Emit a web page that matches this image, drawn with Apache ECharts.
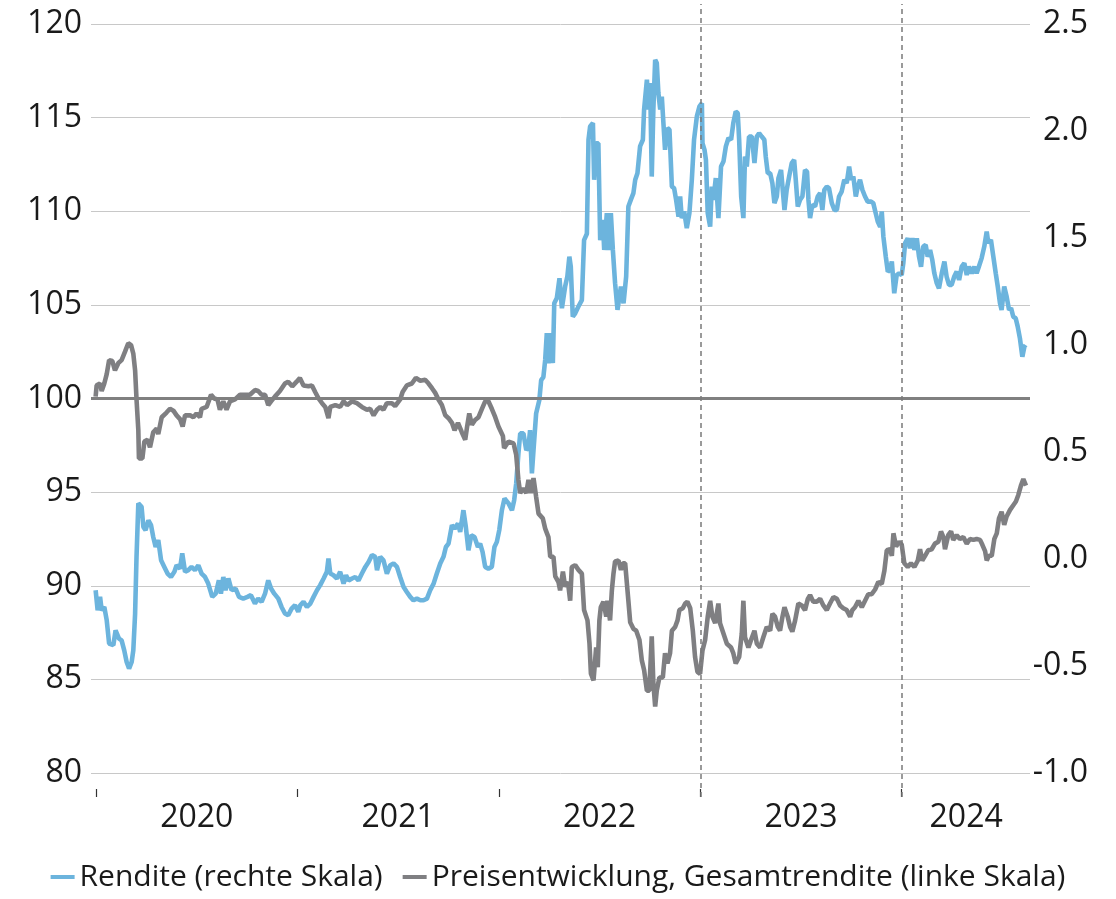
<!DOCTYPE html>
<html>
<head>
<meta charset="utf-8">
<title>Rendite und Preisentwicklung</title>
<script src="https://cdn.jsdelivr.net/npm/echarts@6/dist/echarts.min.js"></script>
<style>
  html, body { margin: 0; padding: 0; background: #fff; }
  #main { width: 1116px; height: 899px; }
</style>
</head>
<body>
<div id="main"></div>
<script>
// x values are fractional years (2020.5 = mid 2020)
var yearTicks = [2020, 2021, 2022, 2023, 2024];
var yearLabelPos = [2020.5, 2021.5, 2022.5, 2023.5, 2024.32];
var dividerYears = [2023, 2024];
var baseLevel = 100;

// Rendite (rechte Skala)
var blueYears = [
  2019.998, 2020.008, 2020.020, 2020.028, 2020.041, 2020.053, 2020.065, 2020.086, 2020.097, 2020.114,
  2020.127, 2020.140, 2020.152, 2020.164, 2020.177, 2020.185, 2020.194, 2020.201, 2020.210, 2020.218,
  2020.226, 2020.235, 2020.246, 2020.260, 2020.273, 2020.284, 2020.296, 2020.309, 2020.323, 2020.339,
  2020.355, 2020.372, 2020.389, 2020.400, 2020.417, 2020.428, 2020.442, 2020.458, 2020.474, 2020.491,
  2020.508, 2020.524, 2020.541, 2020.557, 2020.577, 2020.594, 2020.610, 2020.620, 2020.632, 2020.643,
  2020.657, 2020.673, 2020.693, 2020.710, 2020.731, 2020.752, 2020.769, 2020.789, 2020.805, 2020.822,
  2020.839, 2020.855, 2020.869, 2020.885, 2020.905, 2020.921, 2020.938, 2020.954, 2020.971, 2020.988,
  2021.004, 2021.014, 2021.030, 2021.047, 2021.064, 2021.080, 2021.097, 2021.113, 2021.130, 2021.146,
  2021.154, 2021.163, 2021.179, 2021.196, 2021.212, 2021.229, 2021.241, 2021.254, 2021.271, 2021.287,
  2021.303, 2021.320, 2021.337, 2021.353, 2021.370, 2021.386, 2021.395, 2021.411, 2021.427, 2021.444,
  2021.461, 2021.477, 2021.494, 2021.510, 2021.527, 2021.543, 2021.560, 2021.576, 2021.593, 2021.610,
  2021.626, 2021.643, 2021.659, 2021.676, 2021.692, 2021.709, 2021.725, 2021.737, 2021.750, 2021.767,
  2021.780, 2021.797, 2021.808, 2021.824, 2021.836, 2021.849, 2021.863, 2021.879, 2021.896, 2021.907,
  2021.919, 2021.932, 2021.948, 2021.965, 2021.978, 2021.990, 2022.002, 2022.015, 2022.028, 2022.048,
  2022.065, 2022.076, 2022.086, 2022.097, 2022.106, 2022.122, 2022.136, 2022.147, 2022.155, 2022.164,
  2022.172, 2022.185, 2022.201, 2022.210, 2022.221, 2022.230, 2022.238, 2022.246, 2022.258, 2022.268,
  2022.275, 2022.288, 2022.301, 2022.313, 2022.321, 2022.329, 2022.340, 2022.350, 2022.357, 2022.367,
  2022.379, 2022.395, 2022.412, 2022.423, 2022.437, 2022.445, 2022.453, 2022.467, 2022.473, 2022.483,
  2022.494, 2022.503, 2022.516, 2022.523, 2022.536, 2022.544, 2022.556, 2022.566, 2022.577, 2022.589,
  2022.606, 2022.619, 2022.632, 2022.643, 2022.655, 2022.668, 2022.677, 2022.688, 2022.701, 2022.715,
  2022.721, 2022.735, 2022.743, 2022.751, 2022.759, 2022.767, 2022.776, 2022.784, 2022.792, 2022.801,
  2022.809, 2022.817, 2022.825, 2022.837, 2022.847, 2022.859, 2022.870, 2022.880, 2022.892, 2022.900,
  2022.908, 2022.920, 2022.933, 2022.946, 2022.958, 2022.969, 2022.983, 2022.996, 2023.008, 2023.011,
  2023.021, 2023.028, 2023.037, 2023.049, 2023.057, 2023.065, 2023.077, 2023.090, 2023.103, 2023.115,
  2023.127, 2023.140, 2023.153, 2023.164, 2023.176, 2023.186, 2023.193, 2023.203, 2023.214, 2023.222,
  2023.231, 2023.242, 2023.256, 2023.269, 2023.281, 2023.292, 2023.305, 2023.318, 2023.325, 2023.335,
  2023.347, 2023.358, 2023.368, 2023.380, 2023.388, 2023.401, 2023.408, 2023.418, 2023.429, 2023.441,
  2023.454, 2023.466, 2023.474, 2023.484, 2023.495, 2023.507, 2023.520, 2023.530, 2023.537, 2023.545,
  2023.556, 2023.570, 2023.583, 2023.595, 2023.606, 2023.616, 2023.628, 2023.639, 2023.653, 2023.666,
  2023.678, 2023.689, 2023.702, 2023.715, 2023.727, 2023.739, 2023.749, 2023.760, 2023.772, 2023.782,
  2023.793, 2023.805, 2023.818, 2023.831, 2023.848, 2023.859, 2023.871, 2023.881, 2023.893, 2023.901,
  2023.909, 2023.921, 2023.931, 2023.942, 2023.951, 2023.963, 2023.975, 2023.987, 2024.000, 2024.008,
  2024.017, 2024.030, 2024.041, 2024.053, 2024.063, 2024.075, 2024.086, 2024.096, 2024.107, 2024.119,
  2024.129, 2024.141, 2024.152, 2024.162, 2024.174, 2024.185, 2024.199, 2024.212, 2024.223, 2024.235,
  2024.248, 2024.261, 2024.273, 2024.285, 2024.298, 2024.311, 2024.323, 2024.334, 2024.348, 2024.361,
  2024.372, 2024.383, 2024.397, 2024.410, 2024.422, 2024.430, 2024.443, 2024.455, 2024.467, 2024.477,
  2024.488, 2024.496, 2024.509, 2024.521, 2024.533, 2024.543, 2024.554, 2024.566, 2024.576, 2024.587,
  2024.599, 2024.609, 2024.615
];
var blueValues = [
  -0.146, -0.24, -0.177, -0.24, -0.224, -0.286, -0.395, -0.403, -0.333, -0.372,
  -0.38, -0.427, -0.481, -0.512, -0.481, -0.427, -0.255, 0.01, 0.26, 0.267,
  0.244, 0.15, 0.135, 0.18, 0.158, 0.103, 0.056, 0.088, -0.006, -0.037,
  -0.068, -0.084, -0.06, -0.029, -0.045, 0.026, -0.06, -0.052, -0.037, -0.052,
  -0.029, -0.068, -0.084, -0.115, -0.177, -0.162, -0.1, -0.162, -0.084, -0.146,
  -0.091, -0.146, -0.138, -0.177, -0.185, -0.177, -0.169, -0.208, -0.185, -0.2,
  -0.162, -0.1, -0.138, -0.162, -0.185, -0.224, -0.255, -0.263, -0.232, -0.216,
  -0.247, -0.216, -0.2, -0.224, -0.208, -0.177, -0.146, -0.122, -0.091, -0.06,
  0.002, -0.068, -0.076, -0.091, -0.06, -0.115, -0.076, -0.1, -0.091, -0.084,
  -0.1, -0.068, -0.037, -0.014, 0.018, 0.01, -0.052, 0.01, -0.006, -0.068,
  -0.029, -0.021, -0.037, -0.084, -0.131, -0.154, -0.177, -0.193, -0.185, -0.193,
  -0.193, -0.185, -0.146, -0.115, -0.068, -0.021, 0.01, 0.056, 0.072, 0.158,
  0.142, 0.166, 0.127, 0.228, 0.15, 0.041, 0.111, 0.103, 0.056, 0.072,
  0.033, -0.037, -0.045, -0.037, 0.056, 0.08, 0.135, 0.228, 0.283, 0.26,
  0.228, 0.275, 0.353, 0.493, 0.587, 0.587, 0.509, 0.524, 0.602, 0.4,
  0.509, 0.68, 0.743, 0.836, 0.85, 0.93, 1.055, 0.914, 1.055, 0.915,
  1.195, 1.22, 1.312, 1.172, 1.164, 1.273, 1.32, 1.413, 1.366, 1.132,
  1.148, 1.18, 1.21, 1.49, 1.52, 1.959, 2.021, 2.037, 1.772, 1.943,
  1.943, 1.49, 1.585, 1.444, 1.616, 1.444, 1.616, 1.444, 1.289, 1.164,
  1.273, 1.195, 1.32, 1.647, 1.678, 1.71, 1.772, 1.803, 1.928, 1.959,
  2.1, 2.24, 2.1, 2.224, 1.787, 2.1, 2.333, 2.318, 2.177, 2.1,
  2.161, 2.161, 1.912, 2.014, 2.006, 1.74, 1.733, 1.678, 1.6, 1.694,
  1.593, 1.624, 1.546, 1.616, 1.772, 1.959, 2.068, 2.115, 2.13, 1.943,
  1.912, 1.865, 1.616, 1.553, 1.74, 1.678, 1.78, 1.593, 1.834, 1.857,
  1.928, 1.967, 1.959, 2.037, 2.091, 2.084, 1.959, 1.694, 1.593, 1.881,
  1.834, 1.974, 1.974, 1.85, 1.974, 1.99, 1.974, 1.959, 1.881, 1.803,
  1.803, 1.756, 1.663, 1.694, 1.78, 1.818, 1.818, 1.631, 1.725, 1.787,
  1.85, 1.865, 1.772, 1.647, 1.678, 1.694, 1.818, 1.81, 1.678, 1.593,
  1.655, 1.647, 1.694, 1.71, 1.631, 1.725, 1.74, 1.733, 1.663, 1.631,
  1.631, 1.694, 1.717, 1.772, 1.756, 1.834, 1.772, 1.787, 1.694, 1.74,
  1.772, 1.725, 1.694, 1.67, 1.67, 1.663, 1.616, 1.577, 1.553, 1.624,
  1.507, 1.413, 1.343, 1.351, 1.39, 1.242, 1.327, 1.335, 1.327, 1.382,
  1.476, 1.499, 1.452, 1.499, 1.444, 1.499, 1.413, 1.366, 1.46, 1.468,
  1.413, 1.444, 1.397, 1.335, 1.289, 1.265, 1.335, 1.39, 1.32, 1.281,
  1.281, 1.32, 1.343, 1.304, 1.366, 1.382, 1.327, 1.366, 1.335, 1.366,
  1.335, 1.366, 1.406, 1.46, 1.53, 1.476, 1.491, 1.413, 1.335, 1.273,
  1.195, 1.164, 1.273, 1.226, 1.164, 1.172, 1.132, 1.125, 1.086, 1.031,
  0.945, 0.992, 1.0
];

// Preisentwicklung, Gesamtrendite (linke Skala)
var grayYears = [
  2019.998, 2020.003, 2020.020, 2020.028, 2020.041, 2020.053, 2020.065, 2020.081, 2020.094, 2020.111,
  2020.127, 2020.144, 2020.160, 2020.174, 2020.185, 2020.194, 2020.201, 2020.210, 2020.213, 2020.230,
  2020.240, 2020.256, 2020.268, 2020.284, 2020.301, 2020.309, 2020.326, 2020.350, 2020.367, 2020.384,
  2020.400, 2020.417, 2020.430, 2020.442, 2020.467, 2020.483, 2020.499, 2020.516, 2020.524, 2020.549,
  2020.571, 2020.587, 2020.603, 2020.615, 2020.632, 2020.648, 2020.665, 2020.690, 2020.715, 2020.739,
  2020.764, 2020.789, 2020.805, 2020.822, 2020.839, 2020.855, 2020.869, 2020.888, 2020.913, 2020.938,
  2020.954, 2020.974, 2020.996, 2021.012, 2021.030, 2021.055, 2021.072, 2021.088, 2021.105, 2021.122,
  2021.138, 2021.154, 2021.163, 2021.188, 2021.212, 2021.229, 2021.246, 2021.271, 2021.295, 2021.320,
  2021.345, 2021.361, 2021.378, 2021.395, 2021.411, 2021.427, 2021.444, 2021.469, 2021.485, 2021.510,
  2021.522, 2021.543, 2021.568, 2021.588, 2021.610, 2021.634, 2021.651, 2021.668, 2021.684, 2021.700,
  2021.717, 2021.734, 2021.750, 2021.767, 2021.780, 2021.797, 2021.816, 2021.833, 2021.841, 2021.853,
  2021.866, 2021.882, 2021.899, 2021.916, 2021.932, 2021.948, 2021.965, 2021.982, 2021.998, 2022.020,
  2022.026, 2022.048, 2022.073, 2022.086, 2022.097, 2022.106, 2022.122, 2022.136, 2022.147, 2022.159,
  2022.172, 2022.185, 2022.197, 2022.218, 2022.230, 2022.246, 2022.255, 2022.271, 2022.280, 2022.296,
  2022.304, 2022.318, 2022.329, 2022.343, 2022.354, 2022.362, 2022.379, 2022.395, 2022.412, 2022.423,
  2022.440, 2022.450, 2022.457, 2022.470, 2022.483, 2022.491, 2022.499, 2022.506, 2022.519, 2022.533,
  2022.539, 2022.552, 2022.561, 2022.569, 2022.577, 2022.594, 2022.606, 2022.616, 2022.627, 2022.635,
  2022.643, 2022.652, 2022.668, 2022.682, 2022.698, 2022.710, 2022.721, 2022.735, 2022.747, 2022.759,
  2022.767, 2022.776, 2022.784, 2022.797, 2022.814, 2022.825, 2022.837, 2022.850, 2022.859, 2022.875,
  2022.887, 2022.896, 2022.913, 2022.925, 2022.936, 2022.950, 2022.963, 2022.974, 2022.986, 2022.999,
  2023.011, 2023.024, 2023.037, 2023.049, 2023.060, 2023.074, 2023.090, 2023.098, 2023.115, 2023.132,
  2023.153, 2023.164, 2023.176, 2023.193, 2023.206, 2023.214, 2023.222, 2023.239, 2023.252, 2023.269,
  2023.281, 2023.297, 2023.313, 2023.330, 2023.347, 2023.358, 2023.371, 2023.385, 2023.396, 2023.408,
  2023.418, 2023.434, 2023.446, 2023.457, 2023.471, 2023.487, 2023.504, 2023.520, 2023.534, 2023.545,
  2023.561, 2023.578, 2023.595, 2023.611, 2023.628, 2023.644, 2023.661, 2023.678, 2023.694, 2023.710,
  2023.727, 2023.744, 2023.755, 2023.768, 2023.785, 2023.802, 2023.818, 2023.834, 2023.851, 2023.868,
  2023.884, 2023.901, 2023.914, 2023.926, 2023.942, 2023.951, 2023.959, 2023.972, 2023.987, 2024.000,
  2024.013, 2024.030, 2024.046, 2024.063, 2024.080, 2024.091, 2024.102, 2024.116, 2024.132, 2024.149,
  2024.165, 2024.182, 2024.195, 2024.207, 2024.215, 2024.231, 2024.245, 2024.256, 2024.273, 2024.289,
  2024.306, 2024.323, 2024.339, 2024.356, 2024.372, 2024.389, 2024.400, 2024.414, 2024.422, 2024.433,
  2024.447, 2024.460, 2024.472, 2024.483, 2024.496, 2024.509, 2024.521, 2024.538, 2024.554, 2024.567,
  2024.579, 2024.592, 2024.604, 2024.617
];
var grayValues = [
  100.1, 100.7, 100.8, 100.4, 100.8, 101.3, 102.05, 102.0, 101.5, 101.9,
  102.05, 102.5, 102.95, 102.85, 102.4, 101.5, 99.95, 98.3, 96.8, 96.8,
  97.7, 97.8, 97.4, 98.2, 98.4, 98.1, 99.0, 99.25, 99.45, 99.35,
  99.1, 98.9, 98.5, 99.1, 99.1, 99.0, 99.2, 99.0, 99.45, 99.55,
  100.2, 100.0, 99.95, 99.4, 99.85, 99.4, 99.85, 99.95, 100.2, 100.2,
  100.2, 100.45, 100.4, 100.2, 100.2, 99.65, 99.85, 100.1, 100.4, 100.8,
  100.9, 100.65, 100.9, 101.1, 100.7, 100.65, 100.7, 100.35, 100.0, 99.75,
  99.55, 98.95, 99.55, 99.65, 99.55, 99.85, 99.65, 99.85, 99.75, 99.55,
  99.4, 99.45, 99.1, 99.4, 99.55, 99.4, 99.75, 99.75, 99.6, 99.95,
  100.35, 100.7, 100.8, 101.1, 100.95, 101.0, 100.8, 100.55, 100.3, 99.95,
  99.65, 99.1, 98.95, 98.7, 98.3, 98.7, 98.2, 97.8, 98.4, 99.2,
  98.6, 98.85, 99.0, 99.45, 99.85, 99.85, 99.45, 99.0, 98.5, 98.0,
  97.35, 97.7, 97.6, 97.0, 95.65, 94.95, 95.2, 94.95, 95.65, 94.95,
  95.75, 94.75, 93.85, 93.6, 93.05, 92.6, 91.55, 91.55, 90.5, 90.2,
  89.75, 90.75, 89.95, 90.2, 89.2, 91.0, 91.1, 90.85, 90.65, 88.7,
  88.15, 86.9, 85.3, 84.95, 86.7, 85.65, 88.15, 88.85, 89.15, 88.35,
  89.2, 88.15, 89.75, 90.65, 91.3, 91.35, 90.85, 91.2, 91.2, 90.2,
  89.2, 88.05, 87.7, 87.6, 87.1, 86.0, 85.5, 84.4, 84.4, 87.3,
  84.8, 83.55, 84.4, 85.1, 85.1, 86.4, 85.85, 86.4, 87.6, 87.8,
  88.15, 88.7, 88.8, 89.05, 89.15, 88.8, 87.6, 86.2, 85.4, 85.3,
  86.55, 87.1, 88.35, 89.2, 88.35, 88.0, 89.05, 88.0, 87.45, 86.9,
  86.7, 86.4, 85.85, 86.2, 87.45, 89.2, 87.25, 86.7, 87.1, 87.6,
  86.9, 86.7, 87.25, 87.8, 87.6, 88.5, 88.35, 87.8, 87.6, 88.35,
  88.85, 88.35, 87.8, 87.55, 88.15, 89.05, 88.95, 88.7, 89.3, 89.5,
  89.15, 89.15, 89.3, 88.95, 88.7, 89.05, 89.4, 89.3, 88.95, 88.8,
  88.7, 88.35, 88.7, 88.85, 89.2, 88.85, 89.2, 89.55, 89.55, 89.8,
  90.2, 90.1, 90.8, 91.9, 91.95, 91.6, 92.8, 92.1, 92.35, 92.2,
  91.2, 91.0, 91.2, 91.0, 91.35, 91.95, 91.35, 91.6, 91.9, 91.95,
  92.25, 92.35, 92.9, 92.6, 91.95, 92.7, 92.9, 92.45, 92.7, 92.5,
  92.6, 92.25, 92.5, 92.45, 92.5, 92.45, 92.2, 91.85, 91.35, 91.6,
  91.6, 92.5, 92.8, 93.6, 93.95, 93.25, 93.7, 94.05, 94.3, 94.5,
  94.85, 95.35, 95.7, 95.35
];

function pairs(xs, ys) {
  var out = [];
  for (var i = 0; i < xs.length; i++) {
    out.push([xs[i], ys[i]]);
  }
  return out;
}

var FONT = 'Open Sans';
var TEXT = '#1a1a1a';
var BLUE = '#6cb4dd';
var GRAY = '#7f7f82';
var AXIS_FS = 32;
var xMin = 2019.975, xMax = 2024.637;

var chart = echarts.init(document.getElementById('main'));

var option = {
  animation: false,
  textStyle: { fontFamily: FONT },
  grid: [
    { left: 91, right: 86, top: 24, bottom: 126, containLabel: false },
    // helper grid for the dashed year dividers, they run higher and lower than the plot
    { left: 91, right: 86, top: 4, bottom: 102, containLabel: false }
  ],
  legend: {
    bottom: 2,
    left: 'center',
    itemWidth: 24,
    itemHeight: 4,
    itemGap: 20,
    icon: 'rect',
    textStyle: { fontFamily: FONT, fontSize: 30, color: TEXT },
    data: ['Rendite (rechte Skala)', 'Preisentwicklung, Gesamtrendite (linke Skala)']
  },
  xAxis: [
    {
      type: 'value',
      gridIndex: 0,
      min: xMin,
      max: xMax,
      offset: 16,
      axisLine: { show: false, onZero: false },
      splitLine: { show: false },
      axisTick: {
        show: true,
        length: 8,
        customValues: yearTicks,
        lineStyle: { color: '#333', width: 1.2 }
      },
      axisLabel: {
        customValues: yearLabelPos,
        margin: 13,
        fontFamily: FONT,
        fontSize: AXIS_FS,
        color: TEXT,
        formatter: function (v) { return String(Math.floor(v)); }
      }
    },
    {
      type: 'value',
      gridIndex: 1,
      min: xMin,
      max: xMax,
      show: false
    }
  ],
  yAxis: [
    {
      type: 'value',
      gridIndex: 0,
      min: 80,
      max: 120,
      interval: 5,
      axisLine: { show: false },
      axisTick: { show: false },
      splitLine: { lineStyle: { color: '#c8c8c8', width: 1 } },
      axisLabel: { margin: 9, fontFamily: FONT, fontSize: AXIS_FS, color: TEXT }
    },
    {
      type: 'value',
      gridIndex: 0,
      position: 'right',
      min: -1,
      max: 2.5,
      interval: 0.5,
      axisLine: { show: false },
      axisTick: { show: false },
      splitLine: { show: false },
      axisLabel: {
        margin: 58,
        align: 'right',
        fontFamily: FONT,
        fontSize: AXIS_FS,
        color: TEXT,
        formatter: function (v) { return v.toFixed(1); }
      }
    },
    {
      type: 'value',
      gridIndex: 1,
      min: 0,
      max: 1,
      show: false
    }
  ],
  series: [
    {
      name: 'Rendite (rechte Skala)',
      type: 'line',
      xAxisIndex: 0,
      yAxisIndex: 1,
      showSymbol: false,
      symbol: 'none',
      color: BLUE,
      lineStyle: { color: BLUE, width: 4.6 },
      data: pairs(blueYears, blueValues),
      z: 3
    },
    {
      name: 'Preisentwicklung, Gesamtrendite (linke Skala)',
      type: 'line',
      xAxisIndex: 0,
      yAxisIndex: 0,
      showSymbol: false,
      symbol: 'none',
      color: GRAY,
      lineStyle: { color: GRAY, width: 4.6 },
      data: pairs(grayYears, grayValues),
      markLine: {
        silent: true,
        symbol: 'none',
        label: { show: false },
        lineStyle: { color: '#808080', width: 3, type: 'solid' },
        data: [{ yAxis: baseLevel }]
      },
      z: 4
    },
    {
      name: 'dividers',
      type: 'line',
      xAxisIndex: 1,
      yAxisIndex: 2,
      data: [],
      markLine: {
        silent: true,
        symbol: 'none',
        label: { show: false },
        lineStyle: { color: '#7a7a7a', width: 1.5, type: [5, 4] },
        data: dividerYears.map(function (y) { return { xAxis: y }; })
      },
      z: 2
    }
  ]
};

chart.setOption(option);
</script>
</body>
</html>
